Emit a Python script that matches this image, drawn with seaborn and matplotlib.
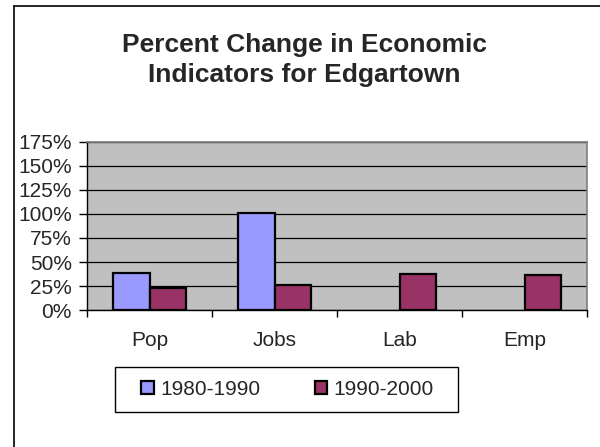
import pandas as pd
import seaborn as sns
import matplotlib.pyplot as plt
from matplotlib.lines import Line2D
from matplotlib.patches import Rectangle
from matplotlib.ticker import FuncFormatter, MultipleLocator

CATEGORIES = ["Pop", "Jobs", "Lab", "Emp"]
PERIODS = ["1980-1990", "1990-2000"]
CHANGE_1980_1990 = [38.2, 101.4, None, None]
CHANGE_1990_2000 = [23.2, 26.0, 37.5, 36.1]
PERIOD_COLORS = {"1980-1990": "#9999FF", "1990-2000": "#993366"}

W, H = 600, 447


def build_frame() -> pd.DataFrame:
    rows = []
    for period, values in zip(PERIODS, [CHANGE_1980_1990, CHANGE_1990_2000]):
        for cat, val in zip(CATEGORIES, values):
            rows.append({"category": cat, "period": period, "change": val})
    return pd.DataFrame(rows)


def main() -> None:
    sns.set_theme(style="white")
    plt.rcParams["font.family"] = ["Liberation Sans", "DejaVu Sans"]

    df = build_frame()
    fig = plt.figure(figsize=(W / 100, H / 100), dpi=100)
    ax = fig.add_axes([87 / W, (H - 310) / H, 500 / W, 168 / H])

    sns.barplot(
        data=df, x="category", y="change", hue="period",
        order=CATEGORIES, hue_order=PERIODS,
        palette=PERIOD_COLORS, width=0.58, dodge=True,
        edgecolor="black", linewidth=1.6, saturation=1, ax=ax,
    )

    ax.set_facecolor("#C0C0C0")
    ax.set_ylim(0, 175)
    ax.set_xlim(-0.5, 3.5)
    ax.yaxis.set_major_locator(MultipleLocator(25))
    ax.yaxis.set_major_formatter(FuncFormatter(lambda v, _: f"{int(v)}%"))
    ax.grid(axis="y", color="black", linewidth=0.9)
    ax.set_axisbelow(True)
    ax.set_xlabel("")
    ax.set_ylabel("")

    # category boundary ticks on x axis, names centred under the groups
    ax.set_xticks([-0.5, 0.5, 1.5, 2.5, 3.5], minor=False)
    ax.set_xticklabels([])
    ax.set_xticks(range(len(CATEGORIES)), minor=True)
    ax.set_xticklabels(CATEGORIES, minor=True)
    ax.tick_params(axis="x", which="major", bottom=True, length=5, width=1, color="black")
    ax.tick_params(axis="x", which="minor", bottom=False, length=0, pad=15, labelsize=15)
    ax.tick_params(axis="y", left=True, length=6, width=1, color="black", labelsize=15, pad=5)

    for side in ["left", "bottom"]:
        ax.spines[side].set_color("black")
        ax.spines[side].set_linewidth(1)
    for side in ["top", "right"]:
        ax.spines[side].set_color("#808080")
        ax.spines[side].set_linewidth(1.2)

    ax.get_legend().remove()
    handles = [
        plt.Rectangle((0, 0), 1, 1, facecolor=PERIOD_COLORS[p], edgecolor="black", linewidth=1.6)
        for p in PERIODS
    ]
    fig.legend(
        handles, PERIODS, loc="center", bbox_to_anchor=(287.5 / W, 1 - 389.5 / H),
        ncol=2, frameon=False, fontsize=15,
        handlelength=0.62, handleheight=0.62, handletextpad=0.3, columnspacing=2.6,
        borderpad=0, borderaxespad=0,
    )
    # legend box drawn separately (wider padding left/right than top/bottom)
    fig.add_artist(Rectangle((115 / W, 1 - 412 / H), 343 / W, 45 / H, transform=fig.transFigure,
                             facecolor="none", edgecolor="black", linewidth=1))

    fig.text(304 / W, 1 - 45 / H, "Percent Change in Economic", ha="center", va="center",
             fontsize=19, fontweight="bold")
    fig.text(304 / W, 1 - 75 / H, "Indicators for Edgartown", ha="center", va="center",
             fontsize=19, fontweight="bold")

    # chart-area border (only top and left are inside the picture)
    fig.add_artist(Line2D([14 / W, 1], [1 - 6 / H, 1 - 6 / H], color="black", linewidth=1.2))
    fig.add_artist(Line2D([14 / W, 14 / W], [0, 1 - 6 / H], color="black", linewidth=1.2))

    fig.savefig("out.png", dpi=100)
    plt.close(fig)


if __name__ == "__main__":
    main()
